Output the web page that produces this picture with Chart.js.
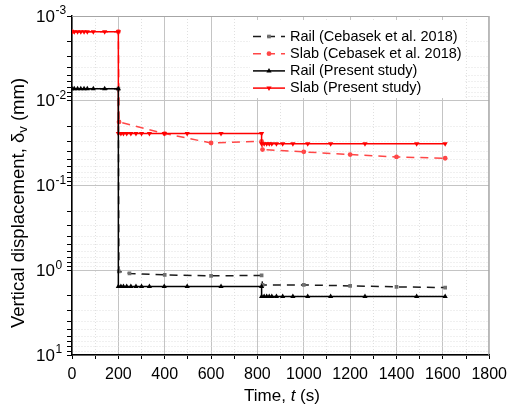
<!DOCTYPE html>
<html>
<head>
<meta charset="utf-8">
<script src="https://cdn.jsdelivr.net/npm/chart.js@4.4.0/dist/chart.umd.min.js"></script>
<style>
body{margin:0;background:#fff}
</style>
</head>
<body>
<canvas id="myChart" width="513" height="414"></canvas>
<script>
// present study - time steps (s)
let tPresent = [0,10,24,38,52,66,92,141,200, 200,211,222,236,254,276,300,334,398,497,643,818, 818,829,840,851,862,882,909,953,1017,1116,1264,1487,1610]
let railPresent = [0.0072,0.0072,0.0072,0.0072,0.0072,0.0072,0.0072,0.0072,0.0072,
    1.56,1.56,1.56,1.56,1.56,1.56,1.56,1.56,1.56,1.56,1.56,1.56,
    2.04,2.04,2.04,2.04,2.04,2.04,2.04,2.04,2.04,2.04,2.04,2.04,2.04]
let slabPresent = [0.00153,0.00153,0.00153,0.00153,0.00153,0.00153,0.00153,0.00153,0.00153,
    0.0244,0.0244,0.0244,0.0244,0.0244,0.0244,0.0244,0.0244,0.0244,0.0244,0.0244,0.0244,
    0.0321,0.0321,0.0321,0.0321,0.0321,0.0321,0.0321,0.0321,0.0321,0.0321,0.0321,0.0321,0.0321]
// Cebasek et al. 2018
let tRailRef = [0,200,202,248,400,600,818,822,1000,1200,1400,1610]
let railRef = [0.0072,0.0072,1.03,1.09,1.135,1.165,1.15,1.49,1.49,1.53,1.57,1.60]
let tSlabRef = [0,200,203,400,600,818,822,1000,1200,1400,1610]
let slabRef = [0.00153,0.00153,0.0178,0.0244,0.0315,0.0301,0.0377,0.0401,0.0432,0.046,0.0477]
// axis ticks
let yDecades = [-3,-2,-1,0,1]
let yExponents = ['-3','-2','-1','0','1']
let xMajor = 200

const font = "'Liberation Sans', Arial, sans-serif"
const ctx = document.getElementById('myChart').getContext('2d')

function pts(xs, ys) {
    return xs.map((x, i) => ({x: x, y: ys[i]}))
}
function isDecade(v) {
    let e = Math.log10(v)
    return Math.abs(e - Math.round(e)) < 1e-6
}

const extras = {
    id: 'extras',
    beforeDatasetsDraw(chart) {
        let c = chart.ctx, a = chart.chartArea
        c.save()
        c.strokeStyle = '#a6a6a6'
        c.lineWidth = 1
        c.beginPath()
        c.moveTo(a.left, a.top + 0.5)
        c.lineTo(a.right - 0.5, a.top + 0.5)
        c.lineTo(a.right - 0.5, a.bottom)
        c.stroke()
        c.restore()
    },
    afterDraw(chart) {
        let c = chart.ctx
        let ys = chart.scales.y
        c.save()
        c.fillStyle = '#000'
        c.textBaseline = 'middle'
        // y tick labels with superscript
        yDecades.forEach((d, i) => {
            let py = ys.getPixelForValue(Math.pow(10, d))
            c.font = '17px ' + font
            c.textAlign = 'right'
            c.fillText('10', 55, py + 1)
            c.font = '12px ' + font
            c.textAlign = 'left'
            c.fillText(yExponents[i], 55.5, py - 5)
        })
        // legend
        c.fillStyle = '#fff'
        c.fillRect(250, 20, 214, 78)
        chart.data.datasets.forEach((ds, i) => {
            let y = 36.5 + i * 17.2
            c.strokeStyle = ds.borderColor
            c.lineWidth = ds.borderWidth
            c.setLineDash(ds.borderDash || [])
            c.beginPath()
            c.moveTo(253, y)
            c.lineTo(285, y)
            c.stroke()
            c.setLineDash([])
            c.fillStyle = ds.pointBackgroundColor
            c.strokeStyle = ds.pointBorderColor
            Chart.helpers.drawPoint(c, {pointStyle: ds.pointStyle, rotation: ds.pointRotation || 0, radius: ds.pointRadius, borderWidth: 0}, 269, y)
            c.fillStyle = '#000'
            c.font = '14.5px ' + font
            c.textAlign = 'left'
            c.fillText(ds.label, 290, y)
        })
        // x title
        let parts = [['Time, ', ''], ['t', 'italic '], [' (s)', '']]
        let w = 0
        parts.forEach(p => { c.font = p[1] + '17px ' + font; w += c.measureText(p[0]).width })
        let x = 282 - w / 2
        c.textAlign = 'left'
        parts.forEach(p => {
            c.font = p[1] + '17px ' + font
            c.fillText(p[0], x, 396)
            x += c.measureText(p[0]).width
        })
        // y title
        c.translate(19, 203)
        c.rotate(-Math.PI / 2)
        let yParts = [['Vertical displacement, \u03b4', 18.5, 0], ['v', 13, 4], [' (mm)', 18.5, 0]]
        w = 0
        yParts.forEach(p => { c.font = p[1] + 'px ' + font; w += c.measureText(p[0]).width })
        x = -w / 2
        yParts.forEach(p => {
            c.font = p[1] + 'px ' + font
            c.fillText(p[0], x, p[2])
            x += c.measureText(p[0]).width
        })
        c.restore()
    }
}

let obj = {
    type: 'line',
    data: {
        datasets: [
            {
                label: 'Rail (Cebasek et al. 2018)',
                data: pts(tRailRef, railRef),
                borderColor: '#1a1a1a',
                borderWidth: 1.5,
                borderDash: [8, 6],
                pointStyle: 'rect',
                pointRadius: 2.6,
                pointBackgroundColor: '#707070',
                pointBorderColor: '#707070',
                pointBorderWidth: 0,
                order: 1
            },
            {
                label: 'Slab (Cebasek et al. 2018)',
                data: pts(tSlabRef, slabRef),
                borderColor: '#ff4747',
                borderWidth: 1.5,
                borderDash: [8, 6],
                pointStyle: 'circle',
                pointRadius: 2.4,
                pointBackgroundColor: '#ff4747',
                pointBorderColor: '#ff4747',
                pointBorderWidth: 0,
                order: 1
            },
            {
                label: 'Rail (Present study)',
                data: pts(tPresent, railPresent),
                borderColor: '#000',
                borderWidth: 1.5,
                pointStyle: 'triangle',
                pointRadius: 3,
                pointBackgroundColor: '#000',
                pointBorderColor: '#000',
                pointBorderWidth: 0,
                order: 0
            },
            {
                label: 'Slab (Present study)',
                data: pts(tPresent, slabPresent),
                borderColor: '#ff0000',
                borderWidth: 1.5,
                pointStyle: 'triangle',
                pointRotation: 180,
                pointRadius: 3,
                pointBackgroundColor: '#ff0000',
                pointBorderColor: '#ff0000',
                pointBorderWidth: 0,
                order: 0
            }
        ]
    },
    options: {
        responsive: false,
        animation: false,
        layout: {padding: {top: 16, right: 21, left: 0, bottom: 0}},
        plugins: {legend: {display: false}, tooltip: {enabled: false}},
        scales: {
            x: {
                type: 'linear',
                min: 0,
                max: 1800,
                afterFit(s) { s.height = 59 },
                ticks: {
                    stepSize: 100,
                    autoSkip: false,
                    maxRotation: 0,
                    padding: 6,
                    color: '#000',
                    font: {family: font, size: 16},
                    callback: v => v % xMajor === 0 ? String(v) : ''
                },
                grid: {
                    color: c => c.tick && c.tick.value % xMajor !== 0 ? '#e0e0e0' : '#c4c4c4',
                    tickColor: '#000',
                    tickLength: 4,
                    lineWidth: 1
                },
                border: {
                    color: '#000',
                    width: 1.5,
                    dash: c => c.tick && c.tick.value % xMajor !== 0 ? [1, 2] : []
                }
            },
            y: {
                type: 'logarithmic',
                reverse: true,
                min: 0.001,
                max: 10,
                afterFit(s) { s.width = 72 },
                afterBuildTicks(s) {
                    let t = []
                    for (let d = -3; d < 1; d++) {
                        for (let m = 1; m < 10; m++) {
                            t.push({value: Number((m * Math.pow(10, d)).toPrecision(3)), major: m === 1})
                        }
                    }
                    t.push({value: 10, major: true})
                    s.ticks = t
                },
                ticks: {display: false},
                grid: {
                    color: c => c.tick && !isDecade(c.tick.value) ? '#e0e0e0' : '#c4c4c4',
                    tickColor: '#000',
                    tickLength: 5,
                    lineWidth: 1
                },
                border: {
                    color: '#000',
                    width: 1.5,
                    dash: c => c.tick && !isDecade(c.tick.value) ? [1, 2] : []
                }
            }
        }
    },
    plugins: [extras]
}
let myChart = new Chart(ctx, obj)
</script>
</body>
</html>
